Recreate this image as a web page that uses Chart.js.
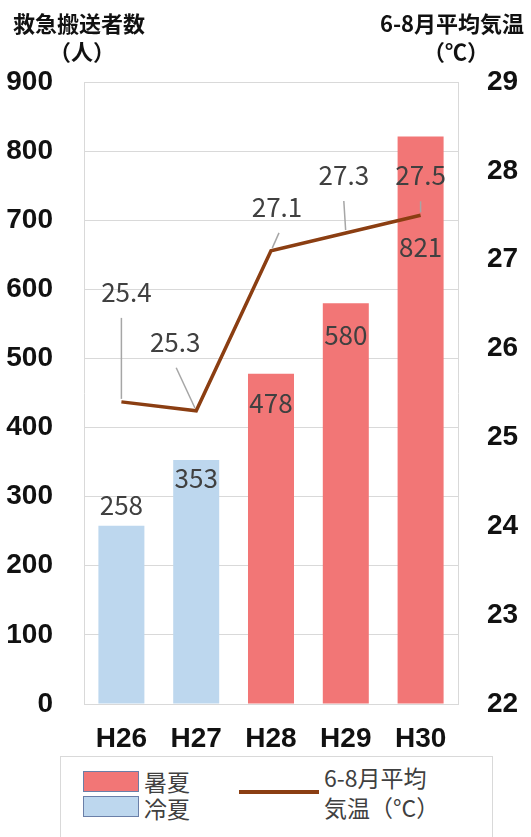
<!DOCTYPE html>
<html>
<head>
<meta charset="utf-8">
<script src="https://cdn.jsdelivr.net/npm/chart.js@4.4.1/dist/chart.umd.min.js"></script>
<style>
  html, body { margin: 0; padding: 0; background: #fff; }
  #wrap { position: relative; width: 531px; height: 837px; overflow: hidden; }
  #myChart { position: absolute; left: 0; top: 0; }
  .ttl { position: absolute; font-family: "Noto Sans CJK JP", sans-serif; font-weight: bold; font-size: 22px; color: #111; white-space: nowrap; line-height: 1; }
  #legend { position: absolute; left: 60px; top: 756px; width: 431px; height: 100px; border: 1px solid #d9d9d9; background: #fff;
            font-family: "Noto Sans CJK JP", sans-serif; font-size: 23px; color: #404040; }
  .sw { position: absolute; left: 22px; width: 54px; height: 19px; border: 1px solid #6a7fa8; }
  .lt { position: absolute; white-space: nowrap; line-height: 1; }
</style>
</head>
<body>
<div id="wrap">
  <canvas id="myChart" width="531" height="837"></canvas>
  <div class="ttl" style="left:13px; top:11px;">救急搬送者数</div>
  <div class="ttl" style="left:49px; top:39px;">（人）</div>
  <div class="ttl" style="left:380px; top:11px;">6-8月平均気温</div>
  <div class="ttl" style="left:423px; top:39px;">（℃）</div>
  <div id="legend">
    <div class="sw" style="top:14px; background:#f27676;"></div>
    <div class="lt" style="left:83px; top:13px;">暑夏</div>
    <div class="sw" style="top:39px; background:#bdd7ee;"></div>
    <div class="lt" style="left:83px; top:40px;">冷夏</div>
    <div style="position:absolute; left:178px; top:33px; width:80px; height:4px; background:#8b3e12;"></div>
    <div class="lt" style="left:263px; top:9px;">6-8月平均</div>
    <div class="lt" style="left:263px; top:39px;">気温（°C）</div>
  </div>
</div>
<script>
var ctx = document.getElementById('myChart');

var Years = ['H26', 'H27', 'H28', 'H29', 'H30'];
var Patients = [258, 353, 478, 580, 821];
var SummerType = ['冷夏', '冷夏', '暑夏', '暑夏', '暑夏'];
var AvgTemp = [25.4, 25.3, 27.1, 27.3, 27.5];
var PatientTicks = [0, 900, 100];   // min, max, step
var TempTicks = [22, 29, 1];

// split the counts into the two summer groups
var hotData = Patients.map(function (v, i) { return SummerType[i] === '暑夏' ? v : null; });
var coolData = Patients.map(function (v, i) { return SummerType[i] === '冷夏' ? v : null; });

// label placement, in pixels from the mark
var barLabelDy = [-21, 18, 29, 32, 111];
var lineLabelDx = [5, -21, 6, -2, 0];
var lineLabelDy = [-110, -69, -44, -58, -40];
var leaderEndDx = [-5, 1, 2, 0, 0];

var labelPlugin = {
  id: 'valueLabels',
  afterDatasetsDraw: function (chart) {
    var c = chart.ctx;
    var xs = chart.scales.x, ys = chart.scales.y, yt = chart.scales.y1;
    c.save();
    c.font = '26px "Noto Sans CJK JP", sans-serif';
    c.fillStyle = '#404040';
    c.textAlign = 'center';
    c.textBaseline = 'middle';
    Patients.forEach(function (v, i) {
      c.fillText(String(v), xs.getPixelForValue(i), ys.getPixelForValue(v) + barLabelDy[i]);
    });
    AvgTemp.forEach(function (v, i) {
      var px = xs.getPixelForValue(i), py = yt.getPixelForValue(v);
      var lx = px + lineLabelDx[i], ly = py + lineLabelDy[i];
      var ex = lx + leaderEndDx[i], ey = ly + 26;
      var len = Math.hypot(ex - px, ey - py);
      c.strokeStyle = '#a6a6a6';
      c.lineWidth = 1.5;
      c.beginPath();
      c.moveTo(px + (ex - px) * 3 / len, py + (ey - py) * 3 / len);
      c.lineTo(ex, ey);
      c.stroke();
      c.fillText(v.toFixed(1), lx, ly);
    });
    c.restore();
  }
};

var myChart = new Chart(ctx, {
  data: {
    labels: Years,
    datasets: [{
      type: 'line',
      label: '6-8月平均気温（°C）',
      data: AvgTemp,
      yAxisID: 'y1',
      borderColor: '#8b3e12',
      borderWidth: 3.5,
      pointRadius: 0,
      tension: 0,
      order: 0
    }, {
      type: 'bar',
      label: '暑夏',
      data: hotData,
      backgroundColor: '#f27676',
      yAxisID: 'y',
      skipNull: true,
      categoryPercentage: 0.615,
      barPercentage: 1,
      order: 1
    }, {
      type: 'bar',
      label: '冷夏',
      data: coolData,
      backgroundColor: '#bdd7ee',
      yAxisID: 'y',
      skipNull: true,
      categoryPercentage: 0.615,
      barPercentage: 1,
      order: 1
    }]
  },
  options: {
    responsive: false,
    animation: false,
    layout: { padding: { left: 0, right: 0, top: 82, bottom: 81 } },
    plugins: { legend: { display: false }, tooltip: { enabled: false } },
    scales: {
      x: {
        grid: { display: false },
        border: { display: true, color: '#d9d9d9', width: 1 },
        ticks: { color: '#111', font: { family: 'Liberation Sans, Arial, sans-serif', size: 28, weight: 'bold' }, padding: 10 },
        afterFit: function (s) { s.height = 52; }
      },
      y: {
        position: 'left',
        min: PatientTicks[0], max: PatientTicks[1],
        ticks: { stepSize: PatientTicks[2], padding: 31, color: '#111', font: { family: 'Liberation Sans, Arial, sans-serif', size: 28, weight: 'bold' } },
        grid: { color: '#d9d9d9', drawTicks: false },
        border: { display: true, color: '#d9d9d9' },
        afterFit: function (s) { s.width = 84; }
      },
      y1: {
        position: 'right',
        min: TempTicks[0], max: TempTicks[1],
        ticks: { stepSize: TempTicks[2], padding: 29, color: '#111', font: { family: 'Liberation Sans, Arial, sans-serif', size: 28, weight: 'bold' } },
        grid: { display: false, drawTicks: false },
        border: { display: true, color: '#d9d9d9' },
        afterFit: function (s) { s.width = 73; }
      }
    }
  },
  plugins: [labelPlugin]
});
</script>
</body>
</html>
